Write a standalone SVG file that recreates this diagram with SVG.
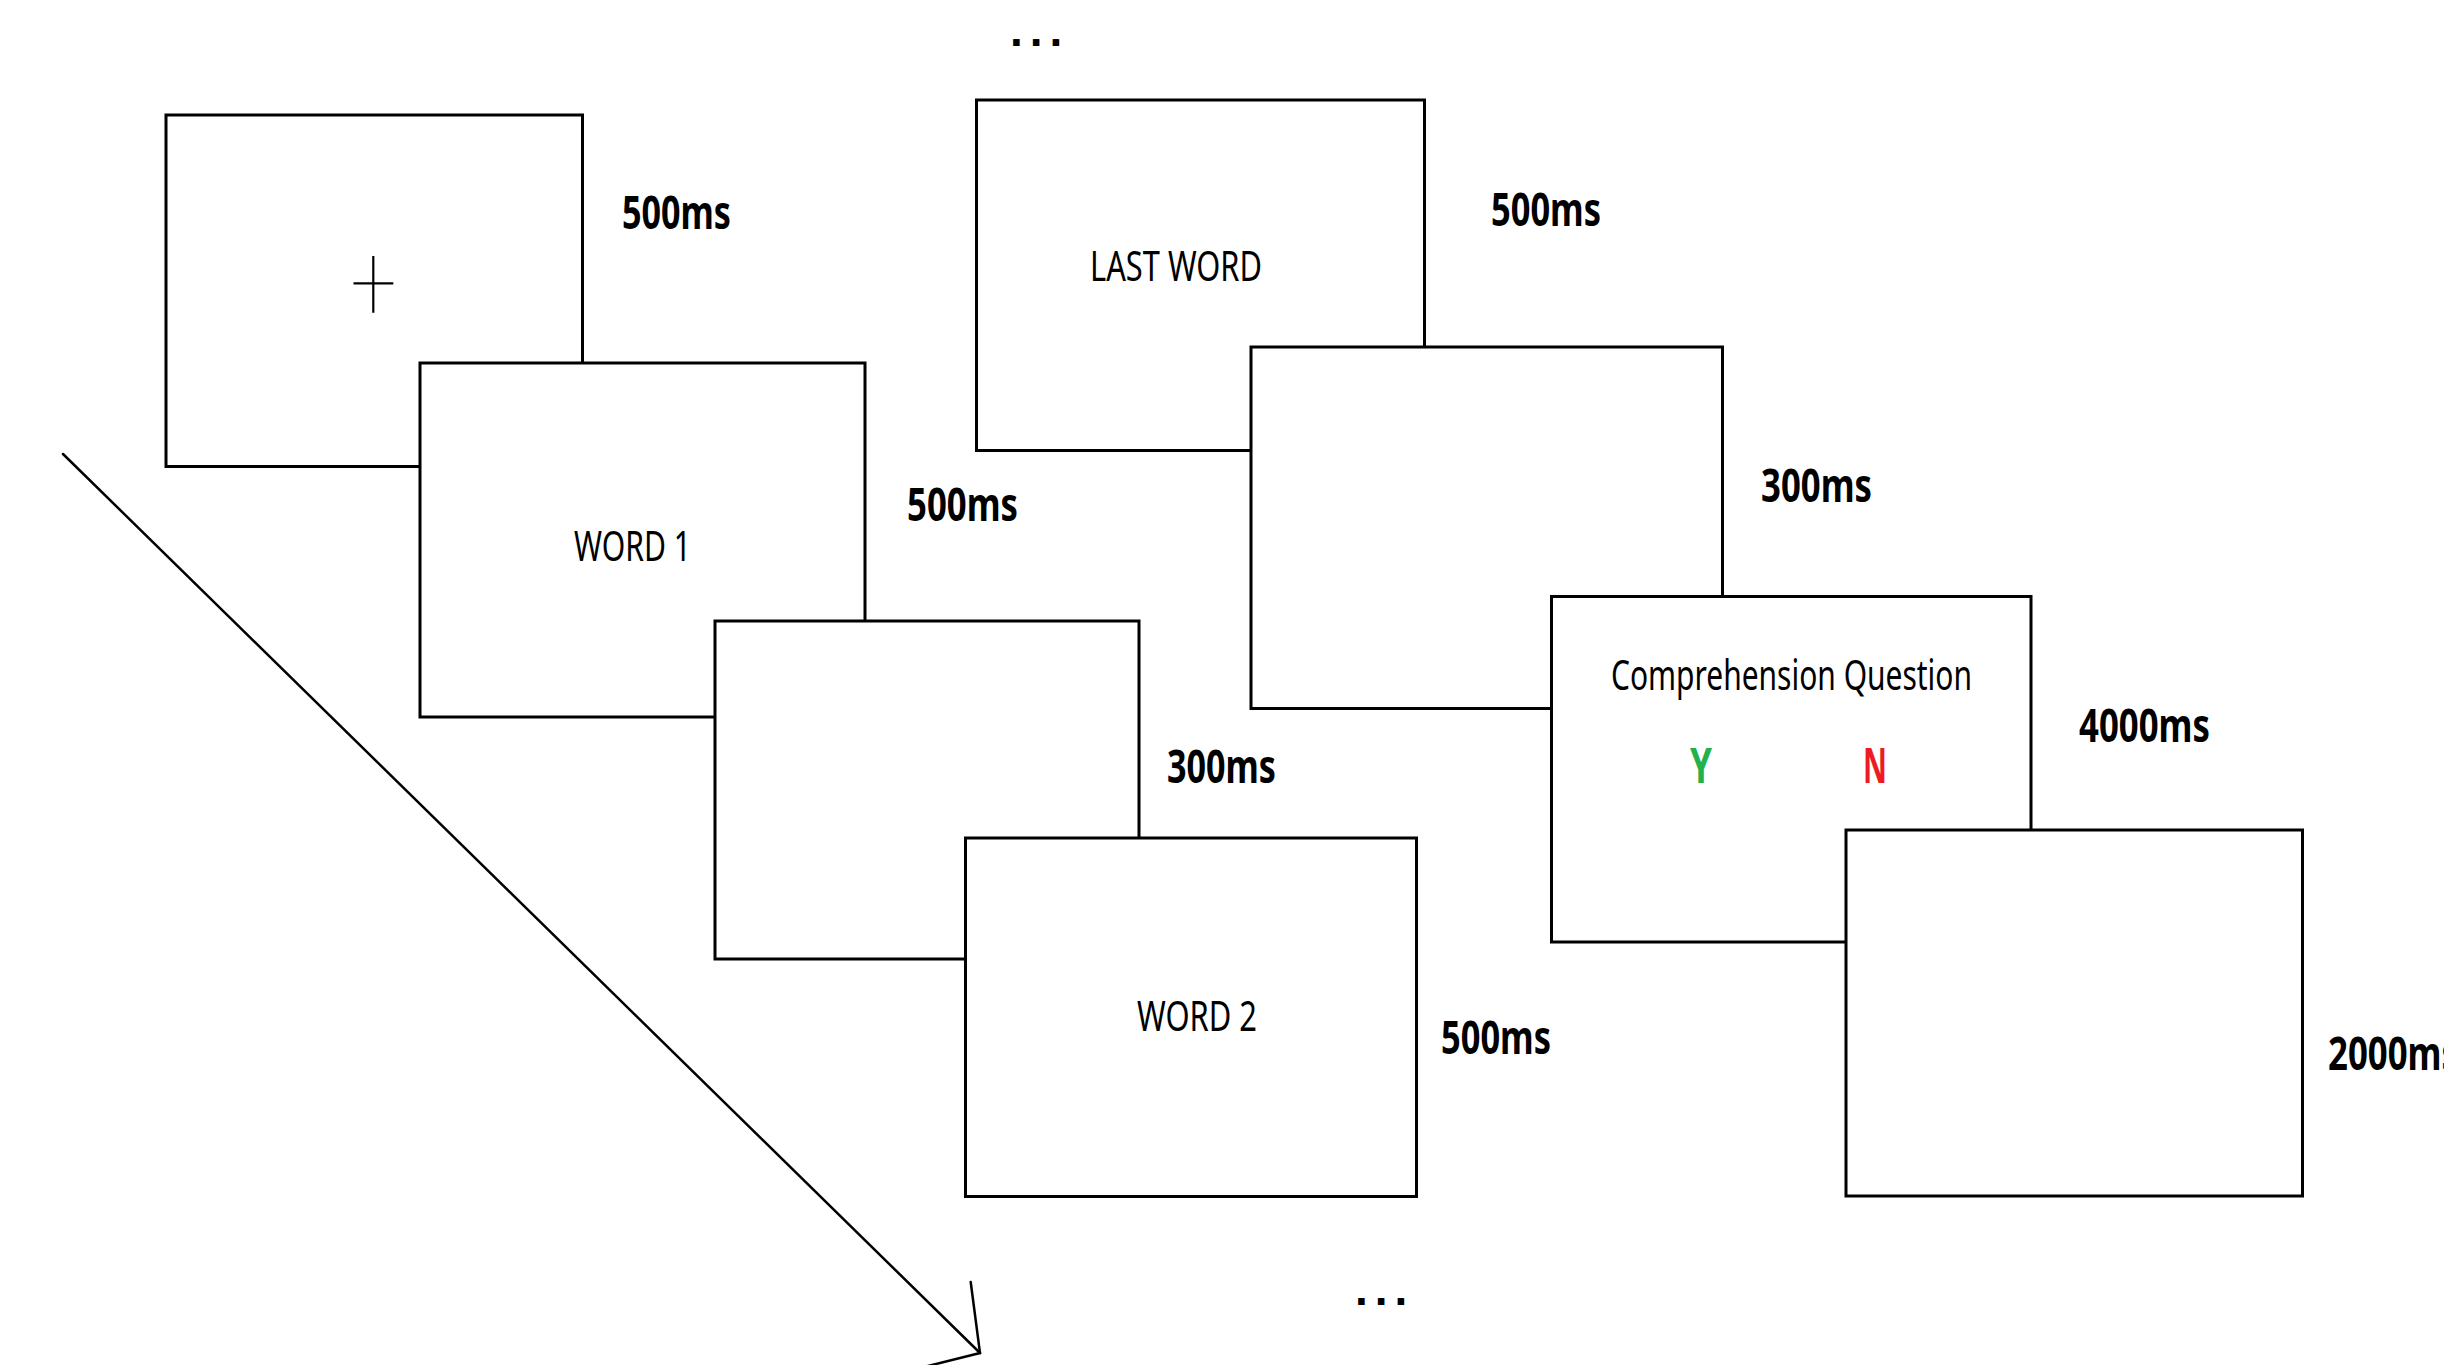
<svg xmlns="http://www.w3.org/2000/svg" width="2444" height="1365" viewBox="0 0 2444 1365">
<style>
.box{fill:#fff;stroke:#000;stroke-width:3}
.lbl{font-family:"Noto Sans","Open Sans",sans-serif;font-size:42px;fill:#000}
.dur{font-family:"Noto Sans","Open Sans",sans-serif;font-size:47px;font-weight:bold;fill:#000}
.yn{font-family:"Noto Sans","Open Sans",sans-serif;font-size:49px;font-weight:bold}
.dots{font-family:"Liberation Sans",Arial,sans-serif;font-size:46px;font-weight:bold;fill:#000;letter-spacing:7px}
.arr{fill:none;stroke:#000;stroke-width:2.5;stroke-linecap:round}
</style>
<rect width="2444" height="1365" fill="#fff"/>
<g id="connectors">
<line class="arr" x1="63" y1="454" x2="980" y2="1353"/>
<polyline class="arr" points="970.7,1282 980,1353 900,1373"/>
</g>
<g id="fixation">
<rect class="box" x="166" y="115" width="416.5" height="351.5"/>
<path d="M353.5 283.3H393.3M373.3 256V312.7" stroke="#000" stroke-width="2.2" fill="none"/>
<text class="dur" x="622" y="228.5" textLength="109" lengthAdjust="spacingAndGlyphs">500ms</text>
</g>
<g id="word1">
<rect class="box" x="420" y="363" width="445" height="354"/>
<text class="lbl" x="574" y="561" textLength="117" lengthAdjust="spacingAndGlyphs">WORD 1</text>
<text class="dur" x="907" y="521" textLength="111" lengthAdjust="spacingAndGlyphs">500ms</text>
</g>
<g id="blank1">
<rect class="box" x="715" y="621" width="424" height="338"/>
<text class="dur" x="1167" y="783" textLength="109" lengthAdjust="spacingAndGlyphs">300ms</text>
</g>
<g id="word2">
<rect class="box" x="965.5" y="838" width="451" height="358.5"/>
<text class="lbl" x="1137" y="1031" textLength="120" lengthAdjust="spacingAndGlyphs">WORD 2</text>
<text class="dur" x="1441" y="1054" textLength="110" lengthAdjust="spacingAndGlyphs">500ms</text>
</g>
<g id="lastword">
<rect class="box" x="976.5" y="100" width="448" height="350.5"/>
<text class="lbl" x="1090" y="281" textLength="172" lengthAdjust="spacingAndGlyphs">LAST WORD</text>
<text class="dur" x="1491" y="226" textLength="110" lengthAdjust="spacingAndGlyphs">500ms</text>
</g>
<g id="blank2">
<rect class="box" x="1251" y="347" width="471.5" height="361.5"/>
<text class="dur" x="1761" y="502" textLength="111" lengthAdjust="spacingAndGlyphs">300ms</text>
</g>
<g id="question">
<rect class="box" x="1551.5" y="596.5" width="479.5" height="345.5"/>
<text class="lbl" x="1611" y="689.5" textLength="361" lengthAdjust="spacingAndGlyphs">Comprehension Question</text>
<text class="yn" x="1690" y="783" fill="#22B14C" textLength="22" lengthAdjust="spacingAndGlyphs">Y</text>
<text class="yn" x="1863" y="783" fill="#ED1C24" textLength="24" lengthAdjust="spacingAndGlyphs">N</text>
<text class="dur" x="2079" y="742" textLength="131" lengthAdjust="spacingAndGlyphs">4000ms</text>
</g>
<g id="blank3">
<rect class="box" x="1846" y="830" width="456.5" height="366"/>
<text class="dur" x="2328" y="1070" textLength="131" lengthAdjust="spacingAndGlyphs">2000ms</text>
</g>
<g id="ellipsis-top">
<text class="dots" x="1010" y="46">...</text>
</g>
<g id="ellipsis-bottom">
<text class="dots" x="1355" y="1304.5">...</text>
</g>
</svg>
